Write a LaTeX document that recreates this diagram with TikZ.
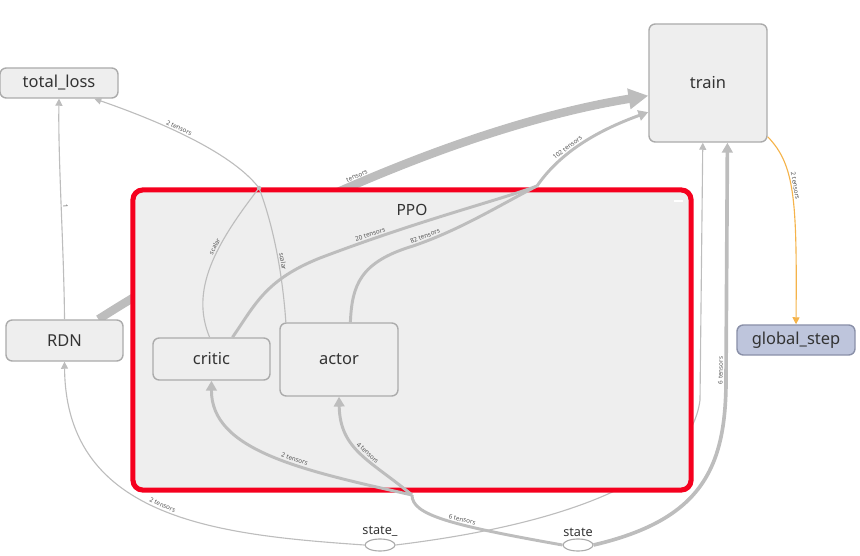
\documentclass[tikz,border=0pt]{standalone}
\usepackage{fontspec}
\setmainfont{Noto Sans}
\usepackage{xcolor}
\usepackage{tikz}
\usetikzlibrary{arrows.meta,positioning,shapes.geometric}
\definecolor{opfill}{HTML}{EEEEEE}
\definecolor{opline}{HTML}{ABABAB}
\definecolor{optext}{HTML}{333333}
\definecolor{ppored}{HTML}{F5001E}
\definecolor{gsfill}{HTML}{BEC5DC}
\definecolor{gsline}{HTML}{8A90A8}
\definecolor{edgec}{HTML}{BDBDBD}
\definecolor{orng}{HTML}{F5B34A}
\definecolor{labc}{HTML}{555555}
\pgfdeclarelayer{bg}
\pgfsetlayers{bg,main}
\tikzset{
  op/.style={draw=opline, fill=opfill, line width=1pt, rounded corners=4.5pt, text=optext, font=\fontsize{11.7}{13}\selectfont},
  gop/.style={draw=gsline, fill=gsfill},
  grp/.style={draw=ppored, fill=opfill, line width=3.6pt, rounded corners=7pt},
  glab/.style={text=optext, font=\fontsize{11}{13}\selectfont},
  ph/.style={ellipse, draw=opline, fill=white, line width=0.8pt, minimum width=0.75cm, minimum height=0.3cm, inner sep=0pt},
  phlab/.style={text=optext, font=\fontsize{9}{11}\selectfont, inner sep=1pt},
  edge/.style={draw=edgec, line width=0.8pt, -{Triangle[length=5pt,width=5pt]}},
  mid/.style={edge, line width=2.1pt, -{Triangle[length=7pt,width=7.5pt]}},
  big/.style={edge, line width=6pt, -{Triangle[length=14pt,width=14pt]}},
  oedge/.style={edge, draw=orng},
  elab/.style={text=labc, font=\fontsize{4.5}{5}\selectfont, sloped, inner sep=1pt},
}

\begin{document}
\begin{tikzpicture}[x=0.025cm,y=-0.025cm]
  \useasboundingbox (0,0) rectangle (860,556);
  % group
  \node[grp, minimum width=13.95cm, minimum height=7.5cm] (ppo) at (412,340) {};
  \node[glab, below=0.3cm of ppo.north] (ppolab) {PPO};
  \draw[white, line width=1.2pt] (674,201) -- (683,201);
  % ops
  \node[op, minimum width=2.95cm, minimum height=0.75cm] (tloss) at (59,83) {total\_loss};
  \node[op, minimum width=2.95cm, minimum height=2.95cm] (train) at (708,83) {train};
  \node[op, minimum width=2.925cm, minimum height=1.025cm] (rdn) at (64.5,340.5) {RDN};
  \node[op, gop, minimum width=2.95cm, minimum height=0.75cm] (gstep) at (796,340) {global\_step};
  \node[op, minimum width=2.925cm, minimum height=1.05cm] (critic) at (211.5,359) {critic};
  \node[op, minimum width=2.95cm, minimum height=1.825cm] (actor) at (339,359.5) {actor};
  \node[ph, label={[phlab]above:state\_}] (st_) at (380,545) {};
  \node[ph, label={[phlab]above:state}] (st) at (578,545) {};
  \coordinate (jl) at (259,188);
  \coordinate (jt) at (537,186);
  \coordinate (js) at (412,495);

  % edges under the group
  \begin{pgfonlayer}{bg}
    \draw[big] (rdn.32) .. controls (230,235) and (450,128) .. node[elab,pos=0.52,above]{tensors} (train.192);
    \draw[edge] (st_.east) .. controls (560,525) and (690,480) .. (700,400) -- (train.265);
  \end{pgfonlayer}

  \draw[edge] (rdn.north) .. controls (64,250) and (58,160) .. node[elab,above]{1} (tloss.south);
  \draw[edge,-] (critic.95) .. controls (190,290) and (215,245) .. node[elab,pos=0.62,above]{scalar} (jl);
  \draw[edge,-] (actor.145) .. controls (283,280) and (275,230) .. node[elab,pos=0.45,above]{scalar} (jl);
  \draw[edge] (jl) .. controls (230,150) and (150,118) .. node[elab,pos=0.55,above]{2 tensors} (tloss.-24);
  \fill[edgec] (jl) circle (1.6pt);

  \draw[mid,-] (critic.46) .. controls (255,305) and (265,280) .. (320,258)
    .. controls (420,220) and (500,200) .. node[elab,pos=0.18,above]{20 tensors} (jt);
  \draw[mid,-] (actor.73) .. controls (352,285) and (360,262) .. (413,246)
    .. controls (460,230) and (500,205) .. node[elab,pos=0.1,above]{82 tensors} (jt);
  \draw[mid] (jt) .. controls (555,160) and (585,135) .. node[elab,pos=0.45,above]{102 tensors} (train.206);

  \draw[edge] (st_.west) .. controls (220,535) and (66,520) .. node[elab,pos=0.5,above]{2 tensors} (rdn.south);
  \draw[mid,-] (st.west) .. controls (450,525) and (412,515) .. node[elab,pos=0.4,above]{6 tensors} (js);
  \draw[mid] (js) .. controls (300,470) and (211,450) .. node[elab,pos=0.4,above]{2 tensors} (critic.south);
  \draw[mid] (js) .. controls (370,460) and (340,450) .. node[elab,pos=0.45,above]{4 tensors} (actor.south);
  \draw[mid, line width=2.6pt] (st.east) .. controls (700,520) and (726,470) .. (726,380)
    -- node[elab,pos=0.04,above]{6 tensors} (train.288);
  \draw[oedge] (train.-42) .. controls (795,165) and (797,200) .. node[elab,pos=0.45,above]{2 tensors} (gstep.north);
\end{tikzpicture}
\end{document}
